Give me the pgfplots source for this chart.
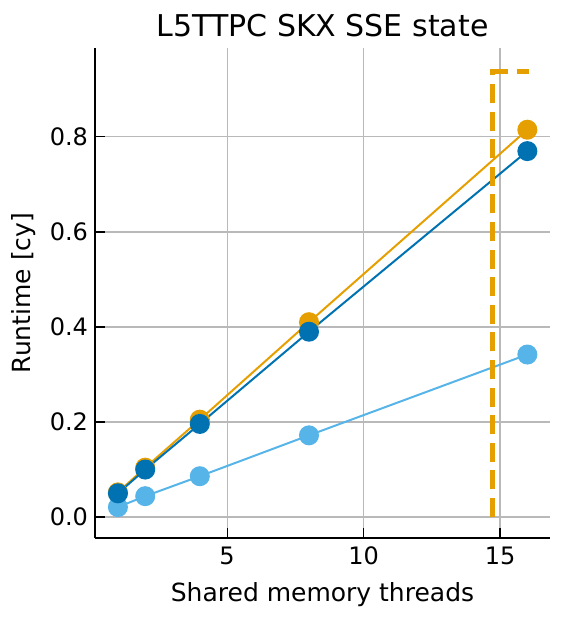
\documentclass[border=0pt]{standalone}
\usepackage{pgfplots}
\pgfplotsset{compat=1.18}
\usepackage{fontspec}
\setmainfont{DejaVu Sans}
\definecolor{cOrange}{HTML}{E69F00}
\definecolor{cBlue}{HTML}{0072B2}
\definecolor{cSky}{HTML}{56B4E9}
\begin{document}
\begin{tikzpicture}
\path[use as bounding box] (-47.5pt,-40.5pt) rectangle (235.5pt,269pt);
\begin{axis}[
  at={(0,0)}, anchor=south west,
  scale only axis,
  width=227.5pt, height=245pt,
  xmin=0.16, xmax=16.83,
  ymin=-0.044, ymax=0.987,
  axis x line*=bottom, axis y line*=left,
  axis line style={-, line width=0.6pt},
  xtick={5,10,15}, ytick={0,0.2,0.4,0.6,0.8},
  yticklabel style={/pgf/number format/.cd, fixed, fixed zerofill, precision=1},
  /pgf/number format/assume math mode=true,
  tick align=inside, major tick length=5pt,
  tick style={black, line width=0.6pt},
  grid=major, grid style={gray!55, line width=0.6pt},
  ticklabel style={font=\fontsize{12pt}{14pt}\selectfont},
  xticklabel style={yshift=-1pt},
  label style={font=\fontsize{12.5pt}{14pt}\selectfont},
  xlabel style={yshift=-2pt},
  title style={font=\fontsize{15pt}{17pt}\selectfont, yshift=-4pt},
  title={L5TTPC SKX SSE state},
  xlabel={Shared memory threads},
  ylabel={Runtime [cy]},
  every axis plot/.append style={line width=1pt, mark=*, mark size=4.5pt},
]
\addplot[color=cSky, mark options={fill=cSky, draw=cSky}] coordinates {
  (1,0.021) (2,0.044) (4,0.086) (8,0.172) (16,0.342)};
\addplot[color=cOrange, mark options={fill=cOrange, draw=cOrange}] coordinates {
  (1,0.052) (2,0.104) (4,0.205) (8,0.410) (16,0.815)};
\addplot[color=cBlue, mark options={fill=cBlue, draw=cBlue}] coordinates {
  (1,0.050) (2,0.100) (4,0.196) (8,0.390) (16,0.770)};
\addplot[color=cOrange, line width=2.5pt, mark=none, dash pattern=on 9.5pt off 4.3pt] coordinates {
  (14.74,0) (14.74,0.937) (16.06,0.937)};
\end{axis}
\end{tikzpicture}
\end{document}
